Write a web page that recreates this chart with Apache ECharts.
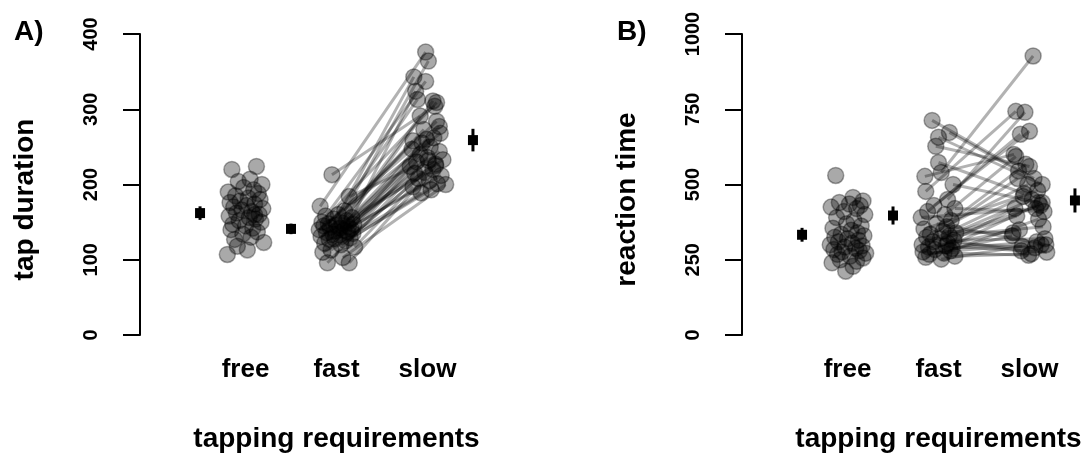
<!DOCTYPE html>
<html>
<head>
<meta charset="utf-8">
<script src="https://cdn.jsdelivr.net/npm/echarts@6/dist/echarts.min.js"></script>
<style>
  html, body { margin: 0; padding: 0; background: #fff; }
  #main { width: 1081px; height: 453px; }
</style>
</head>
<body>
<div id="main"></div>
<script>
// conditions, x position of the points and of the means
const categories = ['free', 'fast', 'slow'];
const catPos = [1, 2, 3];
const meanPos = [0.5, 1.5, 3.5];

// A) tap duration per participant
const tapFree = [224, 220, 207, 204, 200, 196, 193, 190, 188, 185, 182, 180, 178, 176, 174, 172, 170, 168, 166, 164,
  162, 160, 158, 156, 154, 152, 150, 147, 145, 142, 140, 137, 134, 130, 127, 123, 118, 113, 107, 160];
const tapFast = [213, 184, 171, 165, 160, 158, 156, 154, 152, 150, 149, 148, 147, 146, 145, 144, 143, 142, 141, 140,
  139, 138, 137, 136, 135, 134, 133, 131, 129, 127, 125, 122, 120, 117, 113, 110, 103, 96, 96, 128];
const tapSlow = [304, 232, 376, 364, 343, 337, 324, 313, 311, 309, 291, 284, 277, 273, 268, 262, 258, 255, 250, 247,
  244, 240, 236, 233, 230, 227, 224, 220, 216, 212, 208, 205, 201, 197, 193, 189, 200, 215, 225, 260];
const tapMean = [162, 141, 259];
const tapErr = [9, 7, 15];

// B) reaction time per participant
const rtFree = [530, 457, 445, 440, 435, 430, 425, 420, 410, 400, 390, 380, 370, 362, 355, 348, 340, 335, 330, 325,
  320, 315, 310, 305, 300, 296, 292, 288, 284, 280, 276, 272, 268, 262, 256, 250, 245, 240, 228, 212];
const rtFast = [713, 673, 657, 627, 573, 540, 527, 500, 477, 450, 430, 420, 410, 400, 390, 380, 370, 360, 352, 345,
  340, 335, 330, 325, 320, 315, 310, 305, 300, 296, 292, 288, 284, 280, 276, 272, 268, 262, 258, 252];
const rtSlow = [520, 545, 500, 560, 470, 927, 600, 440, 743, 740, 677, 410, 667, 593, 420, 567, 300, 520, 480, 340,
  430, 500, 360, 280, 450, 320, 395, 290, 460, 275, 350, 310, 420, 300, 265, 385, 330, 270, 440, 295];
const rtMean = [333, 397, 447];
const rtErr = [23, 30, 40];

// horizontal jitter of each point (x units)
const jitA = [
  [0.12, -0.15, 0.05, -0.08, 0.18, -0.02, 0.09, -0.19, 0.14, -0.11, 0.03, 0.16, -0.06, -0.17, 0.1, 0.01, -0.13, 0.19, -0.04, 0.07,
   -0.1, 0.15, -0.18, 0.04, 0.11, -0.07, 0.17, -0.14, 0.0, 0.08, -0.16, 0.13, -0.03, 0.06, -0.12, 0.2, -0.09, 0.02, -0.2, 0.1],
  [-0.05, 0.14, -0.18, 0.09, 0.02, -0.12, 0.17, -0.03, 0.11, -0.16, 0.06, -0.09, 0.19, 0.0, -0.14, 0.13, -0.07, 0.04, 0.16, -0.19,
   0.08, -0.01, 0.12, -0.11, 0.18, -0.04, 0.03, -0.17, 0.15, -0.08, 0.1, -0.13, 0.05, 0.2, -0.06, -0.15, 0.07, -0.1, 0.14, -0.02],
  [0.08, 0.01, -0.02, 0.01, -0.15, -0.02, -0.13, -0.11, 0.06, 0.1, -0.08, 0.1, 0.13, -0.04, 0.14, 0.07, -0.16, -0.06, 0.03, -0.17,
   0.13, -0.08, 0.0, 0.17, -0.12, 0.09, -0.19, 0.06, -0.03, 0.15, -0.1, 0.02, 0.11, -0.16, 0.04, -0.07, 0.2, -0.14, 0.09, -0.01]
];
const jitB = [
  [-0.13, 0.06, 0.17, -0.09, 0.02, 0.14, -0.18, 0.1, -0.04, 0.19, -0.12, 0.07, -0.01, 0.15, -0.16, 0.04, 0.11, -0.07, 0.18, -0.14,
   0.0, 0.12, -0.1, 0.05, -0.19, 0.16, -0.03, 0.09, -0.15, 0.13, -0.06, 0.2, -0.11, 0.03, 0.17, -0.08, 0.1, -0.17, 0.06, -0.02],
  [-0.07, 0.12, 0.0, -0.03, 0.0, 0.03, -0.15, 0.16, -0.14, 0.1, -0.05, 0.18, -0.12, 0.07, -0.19, 0.14, -0.02, 0.09, -0.16, 0.05,
   0.19, -0.09, 0.12, -0.13, 0.02, 0.17, -0.06, 0.1, -0.18, 0.08, -0.11, 0.15, -0.04, 0.13, -0.17, 0.06, -0.1, 0.18, -0.14, 0.03],
  [0.05, -0.12, 0.14, 0.0, -0.06, 0.04, -0.17, 0.1, -0.15, -0.05, 0.0, 0.16, -0.1, -0.15, 0.07, -0.04, 0.18, -0.13, 0.09, -0.18,
   0.12, -0.02, 0.15, -0.09, 0.03, 0.17, -0.14, 0.06, -0.07, 0.19, -0.11, 0.08, -0.16, 0.13, -0.01, 0.1, -0.19, 0.02, 0.14, -0.08]
];

const font = '"Liberation Sans", Arial, sans-serif';
const pointColor = 'rgba(0,0,0,0.42)';
const lineColor = 'rgba(0,0,0,0.3)';

function points(values, jit, c) {
  return values.map((v, i) => [catPos[c] + jit[i], v]);
}

function segments(fast, slow, jit) {
  return fast.map((v, i) => [catPos[1] + jit[1][i], v, catPos[2] + jit[2][i], slow[i]]);
}

function means(m, e) {
  return m.map((v, i) => [meanPos[i], v, e[i]]);
}

function renderSegment(params, api) {
  const p1 = api.coord([api.value(0), api.value(1)]);
  const p2 = api.coord([api.value(2), api.value(3)]);
  return {
    type: 'line',
    shape: { x1: p1[0], y1: p1[1], x2: p2[0], y2: p2[1] },
    style: { stroke: lineColor, lineWidth: 3 }
  };
}

function renderMean(params, api) {
  const x = api.value(0), m = api.value(1), e = api.value(2);
  const lo = api.coord([x, m - e]);
  const hi = api.coord([x, m + e]);
  const c = api.coord([x, m]);
  return {
    type: 'group',
    children: [
      { type: 'line', shape: { x1: lo[0], y1: lo[1], x2: hi[0], y2: hi[1] }, style: { stroke: '#000', lineWidth: 3 } },
      { type: 'rect', shape: { x: c[0] - 5, y: c[1] - 5, width: 10, height: 10 }, style: { fill: '#000' } }
    ]
  };
}

function xAxisFor(idx) {
  return {
    type: 'value', gridIndex: idx, min: -0.16, max: 4.16,
    axisLine: { show: false, onZero: false }, axisTick: { show: false }, splitLine: { show: false },
    axisLabel: {
      customValues: catPos, margin: 22,
      formatter: v => categories[Math.round(v) - 1],
      color: '#000', fontSize: 26, fontWeight: 'bold', fontFamily: font
    },
    name: 'tapping requirements', nameLocation: 'middle', nameGap: 90,
    nameTextStyle: { color: '#000', fontSize: 28, fontWeight: 'bold', fontFamily: font }
  };
}

function yAxisFor(idx, max, interval, name) {
  return {
    type: 'value', gridIndex: idx, min: 0, max: max, interval: interval,
    axisLine: { show: true, onZero: false, lineStyle: { color: '#000', width: 2 } },
    axisTick: { show: true, length: 17, lineStyle: { color: '#000', width: 2 } },
    splitLine: { show: false },
    axisLabel: {
      rotate: 90, margin: 39, formatter: v => String(v),
      color: '#000', fontSize: 20, fontWeight: 'bold', fontFamily: font
    },
    name: name, nameLocation: 'middle', nameRotate: 90, nameGap: 101,
    // the title sits a little below the middle of the axis
    nameTextStyle: { color: '#000', fontSize: 28, fontWeight: 'bold', fontFamily: font, padding: [0, 30, 0, 0] }
  };
}

const chart = echarts.init(document.getElementById('main'), null, { renderer: 'canvas' });

chart.setOption({
  animation: false,
  backgroundColor: '#fff',
  title: [
    { text: 'A)', left: 9, top: 13, textStyle: { fontSize: 28, fontWeight: 'bold', fontFamily: font, color: '#000' } },
    { text: 'B)', left: 612, top: 13, textStyle: { fontSize: 28, fontWeight: 'bold', fontFamily: font, color: '#000' } }
  ],
  grid: [
    { left: 140, top: 34, width: 393, height: 301, outerBoundsMode: 'none' },
    { left: 742, top: 34, width: 393, height: 301, outerBoundsMode: 'none' }
  ],
  xAxis: [xAxisFor(0), xAxisFor(1)],
  yAxis: [yAxisFor(0, 400, 100, 'tap duration'), yAxisFor(1, 1000, 250, 'reaction time')],
  series: [
    {
      type: 'custom', xAxisIndex: 0, yAxisIndex: 0, renderItem: renderSegment,
      encode: { x: [0, 2], y: [1, 3] }, data: segments(tapFast, tapSlow, jitA), silent: true
    },
    {
      type: 'scatter', xAxisIndex: 0, yAxisIndex: 0, symbolSize: 16,
      itemStyle: { color: pointColor, borderColor: pointColor, borderWidth: 1.5 },
      data: points(tapFree, jitA[0], 0).concat(points(tapFast, jitA[1], 1), points(tapSlow, jitA[2], 2))
    },
    {
      type: 'custom', xAxisIndex: 0, yAxisIndex: 0, renderItem: renderMean,
      encode: { x: 0, y: 1 }, data: means(tapMean, tapErr)
    },
    {
      type: 'custom', xAxisIndex: 1, yAxisIndex: 1, renderItem: renderSegment,
      encode: { x: [0, 2], y: [1, 3] }, data: segments(rtFast, rtSlow, jitB), silent: true
    },
    {
      type: 'scatter', xAxisIndex: 1, yAxisIndex: 1, symbolSize: 16,
      itemStyle: { color: pointColor, borderColor: pointColor, borderWidth: 1.5 },
      data: points(rtFree, jitB[0], 0).concat(points(rtFast, jitB[1], 1), points(rtSlow, jitB[2], 2))
    },
    {
      type: 'custom', xAxisIndex: 1, yAxisIndex: 1, renderItem: renderMean,
      encode: { x: 0, y: 1 }, data: means(rtMean, rtErr)
    }
  ]
});
</script>
</body>
</html>
